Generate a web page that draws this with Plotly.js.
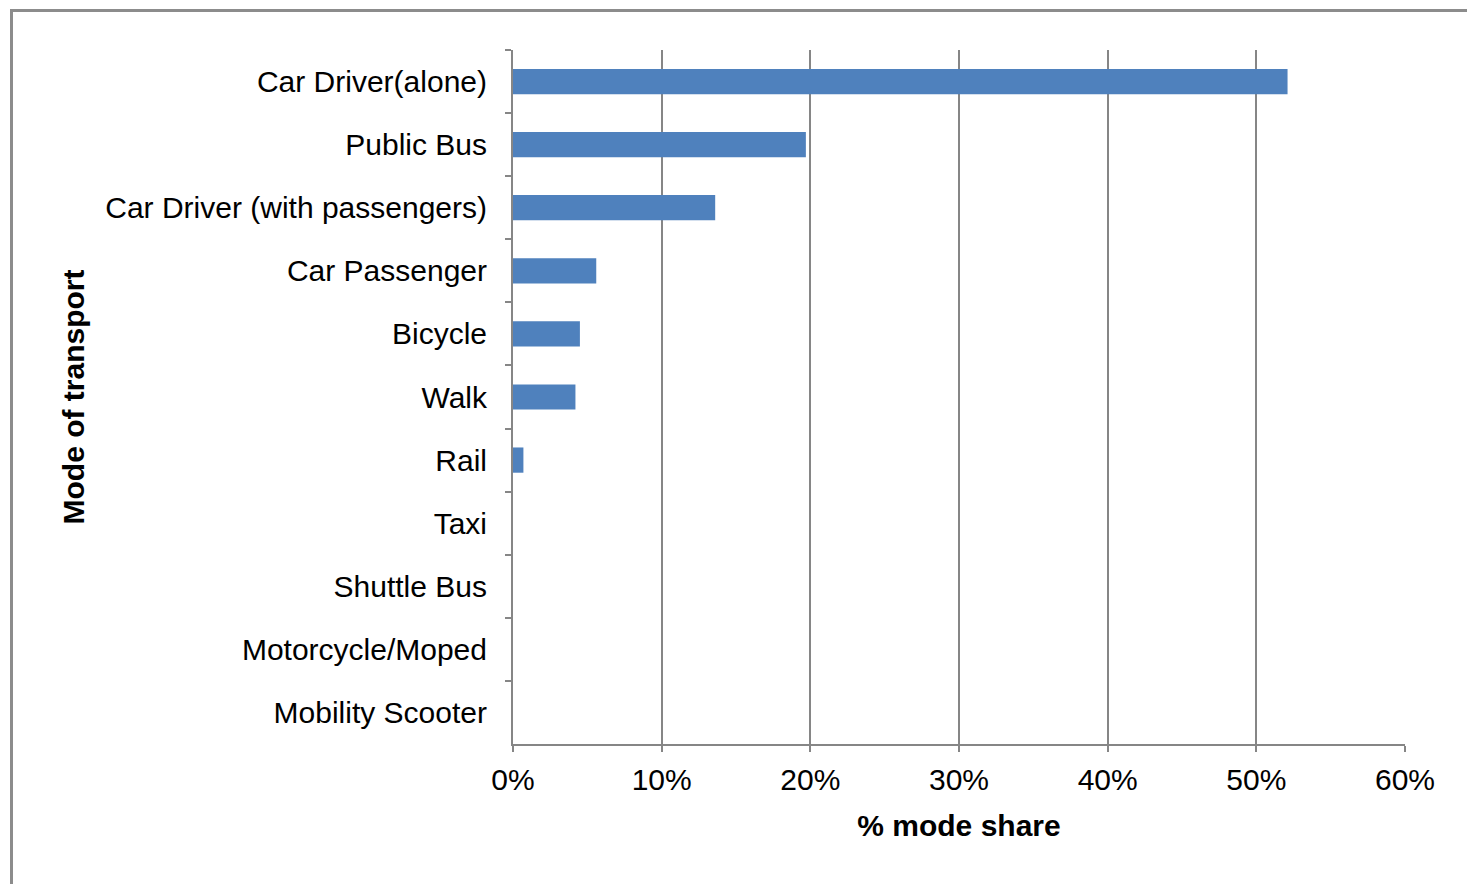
<!DOCTYPE html>
<html>
<head>
<meta charset="utf-8">
<script src="https://cdn.plot.ly/plotly-3.0.1.min.js"></script>
<style>
html,body{margin:0;padding:0;background:#fff;}
#frame{position:absolute;left:10px;top:9px;width:1500px;height:900px;border-top:3px solid #8c8c8c;border-left:3px solid #8c8c8c;}
#chart{position:absolute;left:0;top:0;width:1467px;height:884px;}
</style>
</head>
<body>
<div id="frame"></div>
<div id="chart"></div>
<script>
var categories = ["Car Driver(alone)", "Public Bus", "Car Driver (with passengers)", "Car Passenger", "Bicycle", "Walk", "Rail", "Taxi", "Shuttle Bus", "Motorcycle/Moped", "Mobility Scooter"];
var modeShare = [0.521, 0.197, 0.136, 0.056, 0.045, 0.042, 0.007, 0, 0, 0, 0];
var xTickVals = [0, 0.1, 0.2, 0.3, 0.4, 0.5, 0.6];
var xTickText = ["0%", "10%", "20%", "30%", "40%", "50%", "60%"];

var trace = {
  type: "bar",
  orientation: "h",
  y: categories,
  x: modeShare,
  marker: {color: "#4f81bd", line: {width: 0}},
  hoverinfo: "x+y"
};

var layout = {
  width: 1467,
  height: 884,
  margin: {l: 513, r: 62, t: 50, b: 140},
  paper_bgcolor: "rgba(0,0,0,0)",
  plot_bgcolor: "rgba(0,0,0,0)",
  font: {family: "Liberation Sans, Arial, sans-serif", size: 30, color: "#000"},
  bargap: 0.6,
  showlegend: false,
  xaxis: {
    range: [0, 0.6],
    tickvals: xTickVals,
    ticktext: xTickText,
    showgrid: true,
    gridcolor: "#868686",
    gridwidth: 2,
    showline: true,
    linecolor: "#868686",
    linewidth: 2,
    ticks: "outside",
    ticklen: 6,
    tickwidth: 2,
    tickcolor: "#868686",
    zeroline: false,
    tickfont: {size: 30},
    ticklabelstandoff: 2,
    title: {text: "<b>% mode share</b>", font: {size: 30}, standoff: 20}
  },
  yaxis: {
    type: "category",
    categoryorder: "array",
    categoryarray: categories,
    autorange: "reversed",
    showline: true,
    linecolor: "#868686",
    linewidth: 2,
    ticks: "outside",
    tickson: "boundaries",
    ticklen: 6,
    tickwidth: 2,
    tickcolor: "#868686",
    showgrid: false,
    tickfont: {size: 30},
    ticklabelstandoff: 18,
    title: {text: "<b>Mode of transport</b>", font: {size: 30}, standoff: 12}
  }
};

Plotly.newPlot("chart", [trace], layout, {displayModeBar: false, staticPlot: true});
</script>
</body>
</html>
